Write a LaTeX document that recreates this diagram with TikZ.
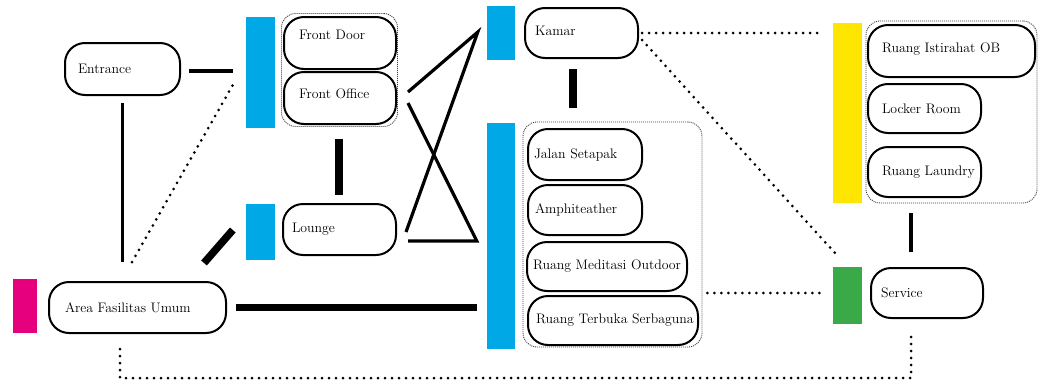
\documentclass[tikz,border=0pt]{standalone}
\usetikzlibrary{calc}
\definecolor{barblue}{RGB}{0,168,230}
\definecolor{barmagenta}{RGB}{230,0,126}
\definecolor{baryellow}{RGB}{255,230,0}
\definecolor{bargreen}{RGB}{58,170,72}
\begin{document}
\begin{tikzpicture}[x=1pt,y=-1pt,
  room/.style={draw, line width=2pt, rounded corners=20pt, inner sep=0pt,
    align=left, font=\fontsize{13.8}{16}\selectfont},
  lift/.style={text depth=#1},
  bar/.style={inner sep=0pt, draw=none},
  group/.style={draw=black!75, line width=0.9pt, dash pattern=on 1pt off 1pt,
    rounded corners=14pt, inner sep=0pt},
  solidlink/.style={line width=3.2pt},
  heavylink/.style={line width=7.5pt},
  dotlink/.style={line width=3pt, line cap=round, dash pattern=on 0pt off 7pt}]
\useasboundingbox (0,0) rectangle (1042,391);

% colour bars marking each zone
\node[bar, fill=barblue, minimum width=29pt, minimum height=111pt] (bar1) at (260.5,72.5) {};
\node[bar, fill=barblue, minimum width=29pt, minimum height=56pt] (bar2) at (260.5,232) {};
\node[bar, fill=barblue, minimum width=28pt, minimum height=54pt] (barK) at (501,33) {};
\node[bar, fill=barblue, minimum width=28pt, minimum height=226pt] (bar3) at (501,236) {};
\node[bar, fill=barmagenta, minimum width=24pt, minimum height=54pt] (barM) at (25,306) {};
\node[bar, fill=baryellow, minimum width=29pt, minimum height=180pt] (barY) at (847.5,113) {};
\node[bar, fill=bargreen, minimum width=29pt, minimum height=57pt] (barG) at (847.5,295.5) {};

% dotted group outlines
\node[group, minimum width=116pt, minimum height=113pt] (g1) at (339.5,70) {};
\node[group, minimum width=179pt, minimum height=225pt] (g2) at (612.5,234.5) {};
\node[group, minimum width=171pt, minimum height=182pt] (g3) at (951.5,112) {};

% rooms
\node[room, minimum width=115pt, minimum height=52pt, text width=89pt] (entrance) at (122.5,69) {\mbox{Entrance}};
\node[room, minimum width=112pt, minimum height=52pt, text width=82pt, lift=16pt] (frontdoor) at (340,43) {\mbox{Front Door}};
\node[room, minimum width=112pt, minimum height=52pt, text width=82pt, lift=8pt] (frontoffice) at (340,98) {\mbox{Front Office}};
\node[room, minimum width=113pt, minimum height=51pt, text width=95pt] (lounge) at (339.5,229.5) {\mbox{Lounge}};
\node[room, minimum width=177pt, minimum height=51pt, text width=145pt] (area) at (137.5,307.5) {\mbox{Area Fasilitas Umum}};
\node[room, minimum width=113pt, minimum height=50pt, text width=93pt, lift=4pt] (kamar) at (581.5,33) {\mbox{Kamar}};
\node[room, minimum width=114pt, minimum height=51pt, text width=102pt] (jalan) at (585,154.5) {\mbox{Jalan Setapak}};
\node[room, minimum width=114pt, minimum height=50pt, text width=100pt] (amphi) at (585,210) {\mbox{Amphiteather}};
\node[room, minimum width=160pt, minimum height=49pt, text width=148pt] (meditasi) at (607,266.5) {\mbox{Ruang Meditasi Outdoor}};
\node[room, minimum width=170pt, minimum height=49pt, text width=154pt] (terbuka) at (613,320.5) {\mbox{Ruang Terbuka Serbaguna}};
\node[room, minimum width=167pt, minimum height=52pt, text width=139pt, lift=6pt] (istirahat) at (951.5,51) {\mbox{Ruang Istirahat OB}};
\node[room, minimum width=113pt, minimum height=49pt, text width=85pt] (locker) at (924.5,108.5) {\mbox{Locker Room}};
\node[room, minimum width=113pt, minimum height=50pt, text width=85pt] (laundry) at (924.5,172) {\mbox{Ruang Laundry}};
\node[room, minimum width=112pt, minimum height=50pt, text width=92pt] (service) at (927,293) {\mbox{Service}};

% solid links
\draw[solidlink] ($(entrance.east)+(8,2)$) -- ($(bar1.west)+(-13,-1.5)$);
\draw[solidlink] ($(entrance.south)+(0,7)$) -- ($(area.north)+(-15,-19)$);
\coordinate (kin) at ($(barK.west)+(-9,-1)$);
\coordinate (gin) at ($(bar3.west)+(-10,5)$);
\draw[solidlink] ($(frontoffice.east)+(11,-6)$) -- (kin) -- ($(lounge.east)+(9,2.5)$);
\draw[solidlink] ($(lounge.east)+(11,11.5)$) -- (gin) -- ($(frontoffice.east)+(11,5)$);
\draw[line width=4pt] ($(g3.south -| service.north)+(-16,10)$) -- ($(service.north)+(-16,-15)$);

% heavy links
\draw[heavylink] ($(frontoffice.south)+(-1,14)$) -- ($(lounge.north)+(-0.5,-8)$);
\draw[heavylink] ($(area.north)+(66.5,-18)$) -- ($(bar2.west)+(-13,-2)$);
\draw[heavylink] ($(area.east)+(9,0)$) -- ($(area.east -| bar3.west)+(-10,0)$);
\draw[line width=8pt] ($(kamar.south)+(-8.5,10)$) -- ($(kamar.south |- g2.north)+(-8.5,-14)$);

% dotted links
\draw[dotlink] ($(area.north)+(-5.5,-19)$) -- ($(bar1.west)+(-13,12.5)$);
\draw[dotlink] ($(kamar.east)+(3,0)$) -- ($(kamar.east -| barY.west)+(-13,0)$);
\draw[dotlink] ($(kamar.east)+(3,7)$) -- ($(barG.north west)+(2,-14)$);
\draw[dotlink] ($(g2.east |- barG.west)+(5,-2.5)$) -- ($(barG.west)+(-11,-2.5)$);
\draw[dotlink] ($(area.south)+(-17.5,15)$) -- ++(0,29) -| ($(service.south)+(-16,12)$);
\end{tikzpicture}
\end{document}
